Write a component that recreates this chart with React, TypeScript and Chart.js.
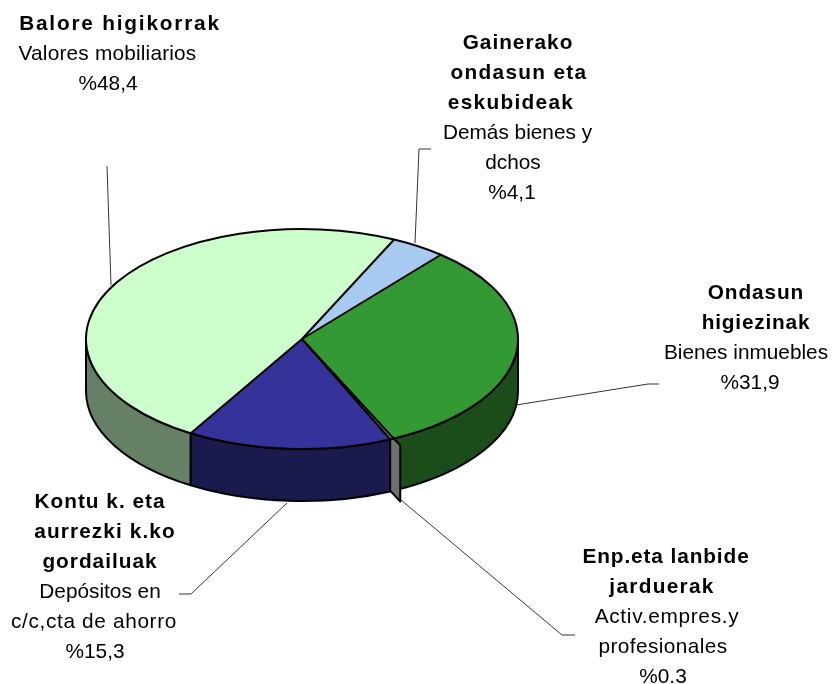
import React, { useEffect, useRef } from "react";
import { Chart, registerables } from "chart.js";

Chart.register(...registerables);

const categories = [
  "Balore higikorrak / Valores mobiliarios",
  "Gainerako ondasun eta eskubideak / Demás bienes y dchos",
  "Ondasun higiezinak / Bienes inmuebles",
  "Enp.eta lanbide jarduerak / Activ.empres.y profesionales",
  "Kontu k. eta aurrezki k.ko gordailuak / Depósitos en c/c,cta de ahorro",
];
const shares = [48.4, 4.1, 31.9, 0.3, 15.3];
const topColors = ["#CCFFCC", "#A6CAF0", "#339933", "#707070", "#333399"];
const sideColors = ["#668066", "#536578", "#1A4D1A", "#707070", "#1A1A4D"];

type Line = [string, boolean, number, number, number];
const labelLines: Line[] = [
  ["Balore higikorrak", true, 120, 24.5, 1.8],
  ["Valores mobiliarios", false, 107.5, 54.5, 0.2],
  ["%48,4", false, 108, 84.5, 0],
  ["Gainerako", true, 518, 43, 1],
  ["ondasun eta", true, 519, 73, 1.3],
  ["eskubideak", true, 511, 103, 1.3],
  ["Demás bienes y", false, 517.5, 133, 0],
  ["dchos", false, 513, 163, 0],
  ["%4,1", false, 512, 193, 0],
  ["Ondasun", true, 756, 293, 0.9],
  ["higiezinak", true, 756, 323, 0.8],
  ["Bienes inmuebles", false, 746, 353, 0],
  ["%31,9", false, 750, 383, 0],
  ["Enp.eta lanbide", true, 666, 557, 0.9],
  ["jarduerak", true, 662, 587, 1.3],
  ["Activ.empres.y", false, 667, 617, 0.7],
  ["profesionales", false, 663, 647, 0.4],
  ["%0.3", false, 663, 677, 0],
  ["Kontu k. eta", true, 100, 502, 1],
  ["aurrezki k.ko", true, 105, 532, 1.1],
  ["gordailuak", true, 100, 562, 1],
  ["Depósitos en", false, 100, 592, 0],
  ["c/c,cta de ahorro", false, 94, 622, 0.65],
  ["%15,3", false, 95, 652, 0],
];
const leaders: number[][][] = [
  [[107, 166], [111, 285]],
  [[431, 149], [419, 149], [415, 243]],
  [[659, 384], [648, 384], [516, 405]],
  [[575, 635], [562, 635], [401, 500]],
  [[179, 594], [191, 594], [287, 503]],
];

const SQUASH = 110 / 216;
const DEPTH = 52;
const THIN_INDEX = 3;
const FONT = '"Liberation Sans", Arial, sans-serif';

const pie3d = {
  id: "pie3d",
  beforeDatasetsDraw(chart: any) {
    const ctx = chart.ctx;
    const arcs = chart.getDatasetMeta(0).data;
    const { x: cx, y: cy, outerRadius: R } = arcs[0];
    const d = DEPTH / SQUASH;

    // leader lines
    ctx.save();
    ctx.strokeStyle = "#333333";
    ctx.lineWidth = 1;
    for (const pts of leaders) {
      ctx.beginPath();
      pts.forEach(([x, y], i) => (i ? ctx.lineTo(x, y) : ctx.moveTo(x, y)));
      ctx.stroke();
    }
    ctx.restore();

    const squash = () => {
      ctx.translate(cx, cy);
      ctx.scale(1, SQUASH);
      ctx.translate(-cx, -cy);
    };

    // outer walls: only the part of each slice on the front half
    const windows = [[0, Math.PI], [2 * Math.PI, 3 * Math.PI]];
    arcs.forEach((arc: any, i: number) => {
      if (i === THIN_INDEX) return;
      for (const [lo, hi] of windows) {
        const a = Math.max(arc.startAngle, lo);
        const b = Math.min(arc.endAngle, hi);
        if (b <= a) continue;
        ctx.save();
        squash();
        ctx.beginPath();
        ctx.arc(cx, cy, R, a, b);
        ctx.arc(cx, cy + d, R, b, a, true);
        ctx.closePath();
        ctx.restore();
        ctx.fillStyle = sideColors[i];
        ctx.fill();
        ctx.strokeStyle = "#000";
        ctx.lineWidth = 2;
        ctx.lineJoin = "round";
        ctx.stroke();
      }
    });

    // the very thin slice shows its cut face, sticking out past the rim
    const thin = arcs[THIN_INDEX];
    const m = thin.startAngle;
    const px = (r: number) => cx + r * Math.cos(m);
    const py = (r: number) => cy + r * SQUASH * Math.sin(m);
    const r0 = R * 0.96;
    const r1 = R * 1.07;
    ctx.save();
    ctx.beginPath();
    ctx.moveTo(px(r0), py(r0));
    ctx.lineTo(px(r1), py(r1));
    ctx.lineTo(px(r1), py(r1) + DEPTH + 4);
    ctx.lineTo(px(r0), py(r0) + DEPTH + 4);
    ctx.closePath();
    ctx.fillStyle = sideColors[THIN_INDEX];
    ctx.fill();
    ctx.strokeStyle = "#000";
    ctx.lineWidth = 2;
    ctx.stroke();
    ctx.restore();

    // top face is drawn by Chart.js under this transform
    ctx.save();
    squash();
  },
  afterDatasetsDraw(chart: any) {
    const ctx = chart.ctx;
    const arcs = chart.getDatasetMeta(0).data;
    const { x: cx, y: cy, outerRadius: R } = arcs[0];
    // outlines: the path is built squashed, the pen stays round
    ctx.beginPath();
    arcs.forEach((arc: any) => {
      ctx.moveTo(cx, cy);
      ctx.arc(cx, cy, R, arc.startAngle, arc.endAngle);
      ctx.closePath();
    });
    ctx.restore();
    ctx.strokeStyle = "#000";
    ctx.lineWidth = 2;
    ctx.lineJoin = "round";
    ctx.stroke();

    // labels
    ctx.save();
    ctx.fillStyle = "#000";
    ctx.textAlign = "center";
    ctx.textBaseline = "middle";
    for (const [text, bold, x, y, spacing] of labelLines) {
      ctx.font = `${bold ? "bold " : ""}20.8px ${FONT}`;
      ctx.letterSpacing = `${spacing}px`;
      ctx.fillText(text, x, y);
    }
    ctx.restore();
  },
};

export default function App() {
  const ref = useRef<HTMLCanvasElement | null>(null);
  useEffect(() => {
    const chart = new Chart(ref.current as HTMLCanvasElement, {
      type: "pie",
      data: {
        labels: categories,
        datasets: [
          {
            data: shares,
            backgroundColor: topColors,
            borderWidth: 0,
            clip: false,
          } as any,
        ],
      },
      options: {
        responsive: false,
        animation: false,
        rotation: 211,
        layout: { padding: { left: 86, right: 314, top: 123, bottom: 129 } },
        plugins: { legend: { display: false }, tooltip: { enabled: false } },
      },
      plugins: [pie3d],
    });
    return () => chart.destroy();
  }, []);
  return (
    <div style={{ position: "absolute", left: 0, top: 0, width: 832, height: 684, background: "#fff" }}>
      <canvas ref={ref} width={832} height={684} style={{ display: "block" }} />
    </div>
  );
}
